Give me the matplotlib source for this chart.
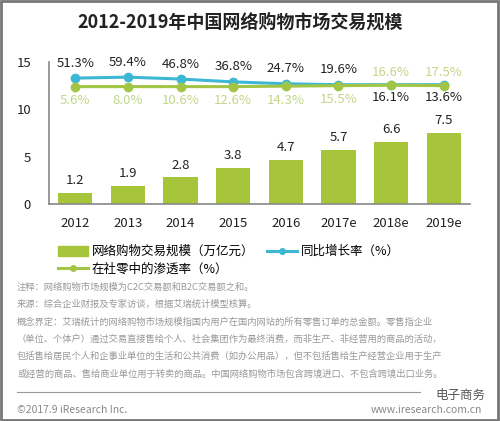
#! /usr/bin/env python3
# -*- coding: utf-8 -*-

import matplotlib
matplotlib.use('Agg')
import matplotlib.pyplot as plt
from matplotlib.patches import Patch, Rectangle
from matplotlib.lines import Line2D

plt.rcParams['font.family'] = ['Noto Sans CJK SC', 'DejaVu Sans']

years = ['2012', '2013', '2014', '2015', '2016', '2017e', '2018e', '2019e']
scale = [1.2, 1.9, 2.8, 3.8, 4.7, 5.7, 6.6, 7.5]
growth = ['51.3%', '59.4%', '46.8%', '36.8%', '24.7%', '19.6%', '16.1%', '13.6%']
penetration = ['5.6%', '8.0%', '10.6%', '12.6%', '14.3%', '15.5%', '16.6%', '17.5%']
# heights the two rate lines are drawn at (schematic)
growth_y = [13.3, 13.4, 13.2, 12.9, 12.7, 12.6, 12.6, 12.6]
pen_y = [12.4, 12.4, 12.4, 12.4, 12.45, 12.5, 12.55, 12.5]

notes = [
    '注释：网络购物市场规模为C2C交易额和B2C交易额之和。',
    '来源：综合企业财报及专家访谈，根据艾瑞统计模型核算。',
    '概念界定：艾瑞统计的网络购物市场规模指国内用户在国内网站的所有零售订单的总金额。零售指企业',
    '（单位、个体户）通过交易直接售给个人、社会集团作为最终消费，而非生产、非经营用的商品的活动，',
    '包括售给居民个人和企事业单位的生活和公共消费（如办公用品），但不包括售给生产经营企业用于生产',
    '或经营的商品、售给商业单位用于转卖的商品。中国网络购物市场包含跨境进口、不包含跨境出口业务。',
]

bar_c = '#a6c53a'
blue_c = '#3db7d4'
green_c = '#a2c545'
lab_green = '#c3d68a'

W, H = 500, 421
fig = plt.figure(figsize=(W / 100, H / 100), dpi=100)
fig.patch.set_facecolor('white')

ax = fig.add_axes([49 / W, 1 - 204 / H, 421 / W, 142 / H])
x = range(len(years))
ax.bar(x, scale, width=0.65, color=bar_c, zorder=2)
for i, v in enumerate(scale):
    ax.text(i, v + 0.6, f'{v}', ha='center', va='bottom', fontsize=9.5, color='#222222')

ax.plot(x, growth_y, color=blue_c, lw=2.2, marker='o', ms=6, zorder=3)
ax.plot(x, pen_y, color=green_c, lw=2.2, marker='o', ms=6, zorder=3)

for i in x:
    if i < 6:
        ax.text(i, growth_y[i] + 0.9, growth[i], ha='center', va='bottom', fontsize=9.5, color='#222222')
        ax.text(i, pen_y[i] - 0.8, penetration[i], ha='center', va='top', fontsize=9.5, color=lab_green)
    else:
        ax.text(i, pen_y[i] + 0.7, penetration[i], ha='center', va='bottom', fontsize=9.5, color=lab_green)
        ax.text(i, growth_y[i] - 0.7, growth[i], ha='center', va='top', fontsize=9.5, color='#222222')

ax.set_xlim(-0.5, len(years) - 0.5)
ax.set_ylim(0, 15)
ax.set_yticks([0, 5, 10, 15])
ax.set_xticks(list(x))
ax.set_xticklabels(years)
ax.tick_params(axis='both', length=0, labelsize=9.5, labelcolor='#222222')
ax.tick_params(axis='y', pad=13)
ax.tick_params(axis='x', pad=9)
for s in ['top', 'right']:
    ax.spines[s].set_visible(False)
for s in ['left', 'bottom']:
    ax.spines[s].set_color('#888888')
    ax.spines[s].set_linewidth(1.2)

handles = [
    Patch(color=bar_c),
    Line2D([], [], color=green_c, lw=2.2, marker='o', ms=4),
    Line2D([], [], color=blue_c, lw=2.2, marker='o', ms=4),
]
labels = ['网络购物交易规模（万亿元）', '在社零中的渗透率（%）', '同比增长率（%）']
fig.legend(handles, labels, loc='upper left', bbox_to_anchor=(52 / W, 1 - 239 / H),
           ncol=2, frameon=False, fontsize=9, handlelength=2.4, handleheight=0.8,
           handletextpad=0.3, columnspacing=1.0, labelspacing=0.35, borderpad=0)

for k, line in enumerate(notes):
    fig.text(17 / W, 1 - (287 + k * 17.4) / H, line, fontsize=6.7, color='#999999', va='center')

fig.add_artist(Line2D([17 / W, 420 / W], [1 - 392 / H, 1 - 392 / H], color='#999999', lw=0.8))
fig.text(17 / W, 1 - 410 / H, '©2017.9 iResearch Inc.', fontsize=7.5, color='#888888', va='center')
fig.text(482 / W, 1 - 410 / H, 'www.iresearch.com.cn', fontsize=7.5, color='#888888', va='center', ha='right')
fig.text(485 / W, 1 - 395 / H, '电子商务', fontsize=9, color='#555555', va='center', ha='right')

fig.text(240 / W, 1 - 22 / H, '2012-2019年中国网络购物市场交易规模', fontsize=13,
         fontweight='bold', color='#222222', ha='center', va='center')

fig.add_artist(Rectangle((0.002, 0.003), 0.993, 0.994, transform=fig.transFigure,
                         fill=False, edgecolor='#777777', lw=2))

fig.savefig('out.png', dpi=100)
